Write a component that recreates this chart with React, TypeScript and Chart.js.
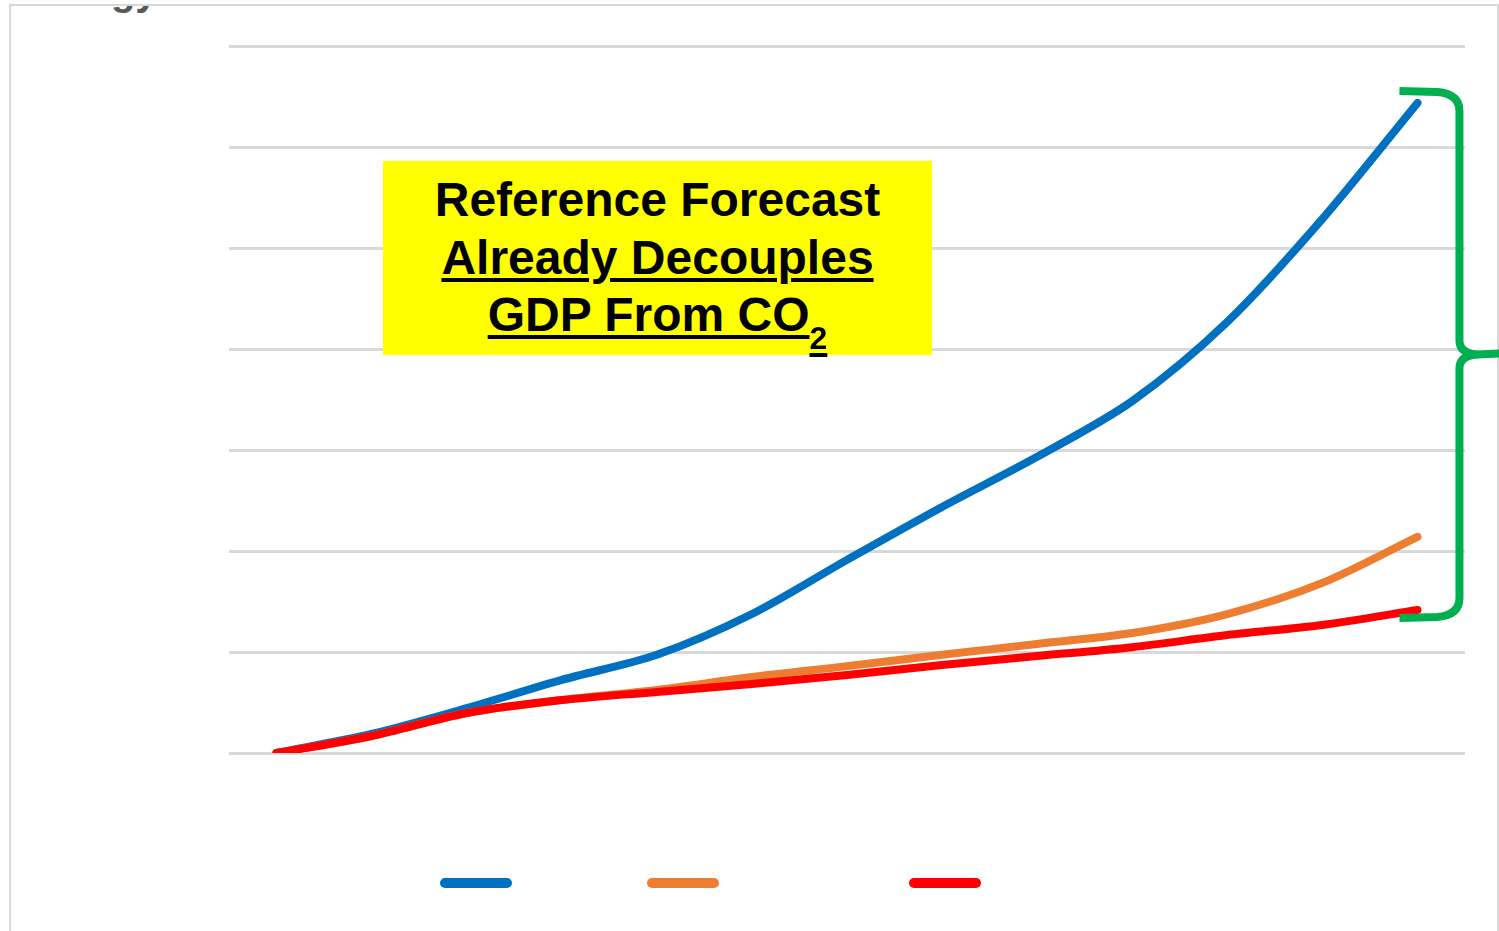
import React, { useEffect, useRef } from 'react';
import { Chart, registerables } from 'chart.js';

Chart.register(...registerables);

// Forecast years (x categories)
const YEARS = ['2016', '2018', '2020', '2022', '2024', '2026', '2028', '2030', '2032', '2034', '2036', '2038', '2040'];

// Cumulative growth since the first year, percent
const GDP_GROWTH = [0, 4.7, 11.1, 18.1, 24.3, 34.4, 47.8, 60.9, 73.3, 87.1, 106.7, 132.2, 160.9];
const ENERGY_GROWTH = [0, 4.2, 9.9, 13.1, 15.6, 18.8, 21.5, 24.3, 27.0, 29.7, 34.4, 42.1, 53.5];
const CO2_GROWTH = [0, 4.2, 9.9, 13.1, 15.1, 17.1, 19.3, 21.8, 24.0, 26.2, 29.2, 31.7, 35.4];

const SERIES_NAMES = ['GDP', 'Energy Use', 'CO2 Emissions'];
const SERIES_COLORS = ['#0070c0', '#ed7d31', '#ff0000'];

const Y_MIN = 0;
const Y_MAX = 175;
const Y_STEP = 25;

// Green curly brace spanning the final values of the series
const bracePlugin = {
  id: 'rangeBrace',
  afterDatasetsDraw(chart: any) {
    const { ctx, scales } = chart;
    const xs = scales.x;
    const ys = scales.y;
    const lastIdx = YEARS.length - 1;
    const finals = [GDP_GROWTH[lastIdx], ENERGY_GROWTH[lastIdx], CO2_GROWTH[lastIdx]];
    const xLast = xs.getPixelForValue(lastIdx);
    const yTop = ys.getPixelForValue(Math.max(...finals)) - 12;
    const yBot = ys.getPixelForValue(Math.min(...finals)) + 8;
    const yMid = (yTop + yBot) / 2;
    const xStub = xLast - 18;
    const xBar = xLast + 42;
    ctx.save();
    ctx.strokeStyle = '#00b050';
    ctx.lineWidth = 8;
    ctx.lineJoin = 'round';
    ctx.lineCap = 'butt';
    // upper half
    ctx.beginPath();
    ctx.moveTo(xStub, yTop);
    ctx.lineTo(xBar - 22, yTop + 1);
    ctx.quadraticCurveTo(xBar, yTop + 3, xBar, yTop + 20);
    ctx.lineTo(xBar, yMid - 14);
    ctx.quadraticCurveTo(xBar, yMid - 1, xBar + 18, yMid);
    ctx.lineTo(chart.width + 10, yMid - 1.5);
    ctx.stroke();
    // lower half
    ctx.beginPath();
    ctx.moveTo(xBar + 18, yMid);
    ctx.quadraticCurveTo(xBar, yMid + 1, xBar, yMid + 14);
    ctx.lineTo(xBar, yBot - 20);
    ctx.quadraticCurveTo(xBar, yBot - 3, xBar - 22, yBot - 1);
    ctx.lineTo(xStub, yBot);
    ctx.stroke();
    ctx.restore();
  },
};

// Legend made of colour swatches only
const LEGEND_OFFSETS = [211, 418, 680];
const swatchLegendPlugin = {
  id: 'swatchLegend',
  afterDraw(chart: any) {
    const { ctx, chartArea } = chart;
    const w = 72;
    const h = 10;
    const cy = chartArea.bottom + 130;
    chart.data.datasets.forEach((ds: any, i: number) => {
      const x = chartArea.left + LEGEND_OFFSETS[i];
      ctx.save();
      ctx.fillStyle = ds.borderColor;
      ctx.beginPath();
      ctx.roundRect(x, cy - h / 2, w, h, h / 2);
      ctx.fill();
      ctx.restore();
    });
  },
};

function GrowthChart() {
  const canvasRef = useRef<HTMLCanvasElement | null>(null);

  useEffect(() => {
    if (!canvasRef.current) return;
    const seriesValues = [GDP_GROWTH, ENERGY_GROWTH, CO2_GROWTH];
    const chart = new Chart(canvasRef.current, {
      type: 'line',
      data: {
        labels: YEARS,
        datasets: seriesValues.map((values, i) => ({
          label: SERIES_NAMES[i],
          data: values,
          borderColor: SERIES_COLORS[i],
          backgroundColor: SERIES_COLORS[i],
          borderWidth: 8,
          borderCapStyle: 'round',
          borderJoinStyle: 'round',
          pointRadius: 0,
          tension: 0.3,
          fill: false,
          order: seriesValues.length - i,
        })),
      },
      options: {
        responsive: false,
        animation: false,
        layout: { padding: { left: 229, right: 34, top: 46, bottom: 178 } },
        scales: {
          x: { type: 'category', offset: true, display: false },
          y: {
            min: Y_MIN,
            max: Y_MAX,
            ticks: { stepSize: Y_STEP, display: false },
            grid: { color: '#d9d9d9', lineWidth: 3, drawTicks: false },
            border: { display: false },
          },
        },
        plugins: {
          legend: { display: false },
          tooltip: { enabled: false },
        },
      },
      plugins: [bracePlugin, swatchLegendPlugin],
    } as any);
    return () => chart.destroy();
  }, []);

  return (
    <canvas
      ref={canvasRef}
      width={1499}
      height={931}
      style={{ position: 'absolute', left: 0, top: 0, display: 'block' }}
    />
  );
}

const FONT = '"Liberation Sans", Arial, Helvetica, sans-serif';

export default function App() {
  const underline: React.CSSProperties = {
    textDecoration: 'underline',
    textDecorationThickness: '3.5px',
    textUnderlineOffset: '4px',
  };
  return (
    <div
      style={{
        position: 'fixed',
        left: 0,
        top: 0,
        width: 1499,
        height: 931,
        overflow: 'hidden',
        background: '#ffffff',
      }}
    >
      <div
        style={{
          position: 'absolute',
          left: 9,
          top: 4,
          width: 1490,
          height: 980,
          border: '2px solid #d9d9d9',
          boxSizing: 'border-box',
          overflow: 'hidden',
        }}
      >
        <span
          style={{
            position: 'absolute',
            left: 11,
            top: -35,
            font: `bold 40px ${FONT}`,
            lineHeight: '40px',
            color: '#595959',
            whiteSpace: 'nowrap',
          }}
        >
          Energy
        </span>
      </div>
      <GrowthChart />
      <div
        style={{
          position: 'absolute',
          left: 383,
          top: 161,
          width: 549,
          height: 194,
          background: '#ffff00',
          boxSizing: 'border-box',
          paddingTop: 10,
          textAlign: 'center',
          font: `bold 48px ${FONT}`,
          lineHeight: '57.5px',
          color: '#000000',
          whiteSpace: 'nowrap',
        }}
      >
        <div>Reference Forecast</div>
        <div>
          <span style={underline}>Already Decouples</span>
        </div>
        <div>
          <span style={underline}>GDP From CO</span>
          <span
            style={{
              ...underline,
              fontSize: 32,
              lineHeight: '32px',
              position: 'relative',
              top: 18,
            }}
          >
            2
          </span>
        </div>
      </div>
    </div>
  );
}
